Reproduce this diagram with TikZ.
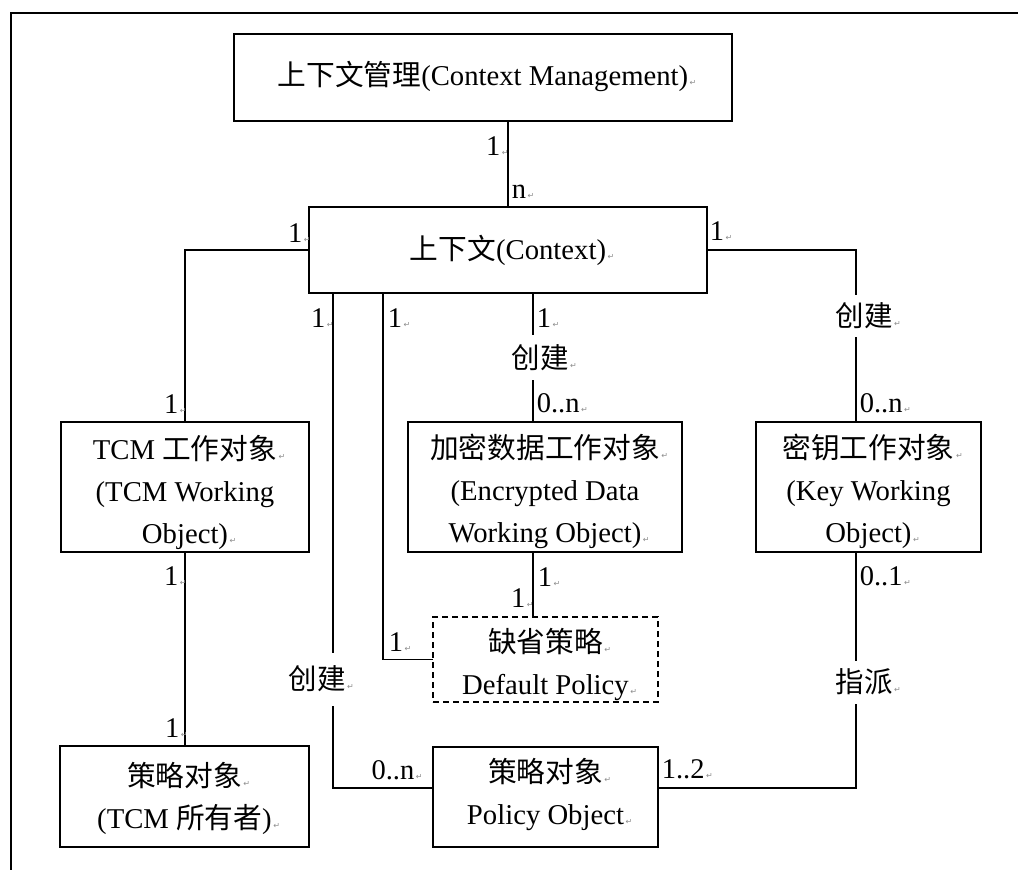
\documentclass[tikz,border=0pt]{standalone}
\usepackage{fontspec}
\setmainfont{Liberation Serif}
\newfontfamily\cjk{Noto Sans CJK SC}
\newfontfamily\symf{DejaVu Sans}
\usetikzlibrary{calc}
% small grey paragraph mark set after a text, taking no width
\newcommand\ret{\rlap{\kern1.5pt\textcolor{black!45}{\symf\fontsize{8}{8}\selectfont ↵}}}
\newcommand\zh[1]{{\cjk #1}}
\begin{document}
\begin{tikzpicture}[x=1pt,y=-1pt,
  every path/.style={line width=1.5pt},
  box/.style={draw, line width=1.6pt, inner sep=0pt, outer sep=0pt},
  dbox/.style={box, dash pattern=on 6pt off 4pt},
  txt/.style={align=center, inner sep=0pt, font=\fontsize{28.7}{42}\selectfont},
  lab/.style={inner sep=0pt, font=\fontsize{28.5}{28.5}\selectfont},
  gap/.style={lab, fill=white}]
\useasboundingbox (0,0) rectangle (1018,870);

% page frame (left and top edges)
\draw (11,870) -- (11,13) -- (1018,13);

% boxes
\node[box, minimum width=498, minimum height=87] (cm) at (483,77.5) {};
\node[box, minimum width=398, minimum height=86] (ctx) at (508,250) {};
\node[box, minimum width=248, minimum height=130] (tcm) at (185,487) {};
\node[box, minimum width=274, minimum height=130] (enc) at (545,487) {};
\node[box, minimum width=225, minimum height=130] (key) at (868.5,487) {};
\node[dbox, minimum width=225, minimum height=85] (dp) at (545.5,659.5) {};
\node[box, minimum width=225, minimum height=100] (po) at (545.5,797) {};
\node[box, minimum width=249, minimum height=101] (own) at (184.5,796.5) {};

% box texts
\node[txt] (cm-t) at (483,76) {\zh{上下文管理}(Context Management)\ret};
\node[txt] (ctx-t) at (508,250) {\zh{上下文}(Context)\ret};
\node[txt] (tcm-t) at (185,492) {TCM \zh{工作对象}\ret\\(TCM Working\\Object)\ret};
\node[txt] (enc-t) at (545,491) {\zh{加密数据工作对象}\ret\\(Encrypted Data\\Working Object)\ret};
\node[txt] (key-t) at (868.5,491) {\zh{密钥工作对象}\ret\\(Key Working\\Object)\ret};
\node[txt] (dp-t) at (545.5,664) {\zh{缺省策略}\ret\\Default Policy\ret};
\node[txt] (po-t) at (545.5,794.5) {\zh{策略对象}\ret\\Policy Object\ret};
\node[txt] (own-t) at (184.5,798.5) {\zh{策略对象}\ret\\(TCM \zh{所有者})\ret};

% bend points of the connectors
\coordinate (a0) at (185,250);
\coordinate (b0) at (856,250);
\coordinate (a1) at (333,788);
\coordinate (b1) at (856,788);
\coordinate (c1) at (383,659.5);
\coordinate (d1) at (533,0);

% connectors
\draw (ctx.north |- cm.south) -- (ctx.north);
\draw (ctx.west) -- (a0) -- (a0 |- tcm.north);
\draw (a0 |- tcm.south) -- (a0 |- own.north);
\draw (ctx.east) -- (b0) -- (b0 |- key.north);
\draw (b1 -| po.east) -- (b1) -- (b1 |- key.south);
\draw (ctx.south -| a1) -- (a1) -- (a1 -| po.west);
\draw (ctx.south -| c1) -- (c1) -- (dp.west);
\draw (ctx.south -| d1) -- (enc.north -| d1);
\draw (enc.south -| d1) -- (dp.north -| d1);

% labels interrupting connectors
\node[gap, minimum height=45] (g1) at (540,357.5) {\zh{创建}\ret};
\node[gap, minimum height=42] (g2) at (864,316) {\zh{创建}\ret};
\node[gap, minimum height=43] (g3) at (864,682) {\zh{指派}\ret};
\node[gap, minimum height=53] (g4) at (317,679) {\zh{创建}\ret};

% multiplicities
\node[lab, anchor=base east] (m1) at (501,155) {1\ret};
\node[lab, anchor=base west] (m2) at (511,198) {n\ret};
\node[lab, anchor=base east] (m3) at (303,242) {1\ret};
\node[lab, anchor=base west] (m4) at (709,240) {1\ret};
\node[lab, anchor=base east] (m5) at (326,327) {1\ret};
\node[lab, anchor=base west] (m6) at (387,327) {1\ret};
\node[lab, anchor=base west] (m7) at (536,327) {1\ret};
\node[lab, anchor=base west] (m8) at (536,412) {0..n\ret};
\node[lab, anchor=base west] (m9) at (859,412) {0..n\ret};
\node[lab, anchor=base east] (m10) at (179,413) {1\ret};
\node[lab, anchor=base east] (m11) at (179,585) {1\ret};
\node[lab, anchor=base east] (m12) at (180,737) {1\ret};
\node[lab, anchor=base west] (m13) at (537,586) {1\ret};
\node[lab, anchor=base east] (m14) at (526,607) {1\ret};
\node[lab, anchor=base west] (m15) at (388,651) {1\ret};
\node[lab, anchor=base east] (m16) at (415,779) {0..n\ret};
\node[lab, anchor=base west] (m17) at (661,778) {1..2\ret};
\node[lab, anchor=base west] (m18) at (859,585) {0..1\ret};
\end{tikzpicture}
\end{document}
